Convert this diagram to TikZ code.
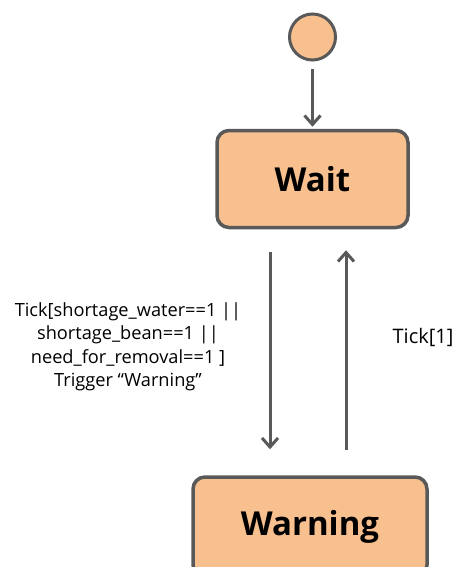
\documentclass[tikz,border=0pt]{standalone}
\usepackage{fontspec}
\setmainfont{Open Sans}
\usetikzlibrary{arrows.meta}
\definecolor{statefill}{HTML}{F9C08F}
\definecolor{edgegray}{HTML}{595959}
\begin{document}
\begin{tikzpicture}[x=1pt,y=-1pt,
  state/.style={draw=edgegray,fill=statefill,line width=3.5pt,rounded corners=12pt,
    inner sep=0pt,font=\fontsize{33}{36}\selectfont\bfseries},
  initial/.style={circle,draw=edgegray,fill=statefill,line width=3pt,minimum size=46pt,inner sep=0pt},
  trans/.style={draw=edgegray,line width=3pt,-{Straight Barb[length=9pt,width=16pt,line width=3pt]}},
  guard/.style={align=center,font=\fontsize{18.2}{23.5}\selectfont}]
\useasboundingbox (0,0) rectangle (462,567);
% states
\node[initial] (start) at (312.5,37) {};
\node[state,minimum width=191pt,minimum height=97pt] (wait) at (312.5,179) {Wait};
\node[state,minimum width=234pt,minimum height=100pt] (warning) at (310,527) {Warning};
% transitions
\coordinate (dn) at (270,0);
\coordinate (up) at (346,0);
\draw[trans,shorten <=8pt,shorten >=2pt] (start) -- (wait);
\draw[trans,shorten <=23pt,shorten >=26pt] (wait.south -| dn) -- (warning.north -| dn);
\draw[trans,shorten <=25pt,shorten >=21pt] (warning.north -| up) -- (wait.south -| up);
% labels
\node[guard] (cond) at (128,347) {Tick[shortage\_water==1 ||\\shortage\_bean==1 ||\\need\_for\_removal==1 ]\\Trigger “Warning”};
\node[guard,font=\fontsize{20}{24}\selectfont] (back) at (423,337) {Tick[1]};
\end{tikzpicture}
\end{document}
